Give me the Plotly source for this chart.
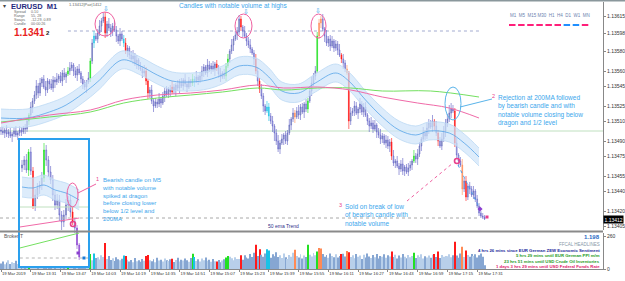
import plotly.graph_objects as go

FONT = "Liberation Sans"
BASE = 1.13400          # price offset for the point lists
PT = 0.00001            # one point

# ---------------- main M1 data (points above 1.13400) ----------------
first_open_pts = 101
close_pts = [
    100, 98, 101, 97, 99, 95, 97, 100, 96, 98, 101, 99, 103, 102,
    110, 116, 124, 130, 136,
    145, 138, 148, 152, 144, 141, 150, 147, 143, 151, 149,
    152, 155, 150, 158, 154, 157, 160,
    163, 166,
    160, 156, 162, 158,
    152, 147, 144, 149, 153,
    170, 188, 195,
    192, 198,
    205, 210, 214, 198, 207, 203, 199, 205, 201,
    195, 190, 197, 192, 188,
    180, 183,
    176, 172, 175, 168, 171,
    165, 162, 158, 160,
    150, 138, 141,
    130, 125, 129, 127, 132, 128,
    135, 140, 137, 142, 139, 144, 141,
    146, 143, 149, 145, 151, 147, 144, 150, 148, 152,
    150, 154, 151, 155,
    160, 164, 158, 166, 162, 165, 161, 167, 163,
    157, 154, 158, 155,
    165, 172, 180, 186,
    192, 196, 199,
    212, 204, 200,
    195, 190, 186, 182, 178,
    172, 160, 150, 142, 135,
    125, 120, 124, 115, 110,
    105, 98, 90, 82, 88,
    92, 96, 90, 98,
    106, 112, 118,
    114, 120, 116, 124, 119, 127, 122, 130,
    140, 148, 155, 160,
    195,
    208, 212, 202,
    195, 188, 192, 185, 190, 183, 187, 181,
    176, 172, 168,
    162, 158,
    110, 118,
    120, 125, 118, 122, 127, 119, 124, 116,
    110, 105, 108, 102, 106, 99,
    96, 92, 95, 88, 91, 85, 89,
    75, 68,
    70, 65, 62, 67, 60, 64, 59, 63, 66,
    70, 75, 72, 77,
    85, 92, 98, 95, 103, 108, 104,
    110, 105, 98, 90, 85, 92, 100, 108, 112,
    118, 122, 120,
    88, 76, 70, 66, 42, 50, 34, 45, 42, 36, 40,
    32, 25, 18, 15,
    14, 12,
]
wick_up = [
    3, 4, 2, 5, 3, 4, 2, 3, 5, 2, 4, 3, 2, 4, 3, 2, 5, 3, 4, 6,
    3, 5, 2, 4, 6, 3, 2, 5, 4, 3, 6, 2, 4, 3, 5, 2, 4, 6, 3, 2,
    4, 3, 5, 2, 3, 4, 2, 6, 3, 4, 5, 3, 4, 6, 3, 4, 5, 3, 6, 4,
    3, 5, 4, 2, 6, 3, 4, 5, 3, 2, 4, 6, 3, 5, 2, 4, 3, 6, 4, 2,
    3, 5, 2, 4, 3, 6, 2, 4, 3, 5, 2, 4, 6, 3, 2, 5, 3, 4, 2, 6,
    3, 4, 2, 5, 3, 6, 2, 4, 5, 3, 2, 6, 4, 3, 5, 2, 4, 3, 6, 2,
    4, 3, 5, 2, 6, 3, 4, 5, 4, 3, 2, 5, 3, 4, 6, 2, 3, 5, 4, 3,
    5, 3, 2, 6, 4, 3, 5, 2, 4, 6, 3, 5, 2, 4, 3, 6, 2, 5, 3, 4,
    6, 3, 4, 2, 5, 3, 4, 6, 3, 5, 4, 4, 3, 5, 2, 6, 3, 4, 5, 2,
    4, 3, 6, 2, 5, 3, 4, 2, 6, 3, 5, 4, 2, 6, 3, 4, 5, 2, 3, 6,
    3, 5, 2, 4, 6, 3, 2, 5, 4, 3, 4, 6, 2, 5, 3, 4, 6, 2, 3, 5,
    4, 2, 6, 3, 5, 4, 2, 6, 3, 5, 4, 3, 6, 2, 5, 3, 4, 6, 5, 4,
    5, 8, 6, 4, 3, 5, 2, 4, 6, 3, 5, 2, 4, 3, 5, 2, 4, 3, 2, 3, 2,
]
wick_dn = [
    4, 2, 5, 3, 4, 2, 6, 3, 2, 5, 3, 4, 2, 5, 3, 4, 2, 6, 3, 4,
    5, 3, 4, 2, 6, 3, 5, 2, 4, 6, 3, 4, 2, 5, 3, 6, 2, 4, 3, 5,
    3, 6, 2, 4, 5, 3, 6, 2, 4, 3, 5, 2, 4, 3, 6, 2, 5, 4, 3, 5,
    4, 2, 6, 3, 5, 2, 4, 3, 6, 4, 2, 5, 3, 6, 4, 2, 5, 3, 4, 6,
    5, 3, 6, 2, 4, 3, 5, 2, 6, 3, 4, 5, 2, 4, 6, 3, 5, 2, 4, 3,
    5, 2, 4, 3, 6, 2, 5, 3, 4, 6, 2, 4, 3, 5, 2, 6, 3, 4, 5, 2,
    3, 5, 2, 4, 3, 6, 2, 5, 3, 4, 6, 2, 5, 3, 4, 2, 6, 3, 5, 4,
    3, 6, 4, 2, 5, 3, 6, 8, 4, 3, 5, 2, 6, 3, 4, 2, 5, 3, 6, 2,
    4, 5, 2, 6, 3, 4, 2, 5, 3, 4, 2, 3, 5, 2, 6, 3, 4, 5, 2, 4,
    3, 5, 2, 4, 6, 3, 2, 8, 4, 3, 5, 2, 6, 4, 3, 5, 2, 4, 6, 3,
    4, 2, 6, 3, 5, 4, 2, 5, 3, 6, 4, 3, 5, 2, 6, 3, 4, 5, 2, 4,
    3, 5, 2, 4, 6, 3, 5, 2, 4, 3, 6, 2, 5, 4, 3, 5, 2, 4, 3, 6,
    4, 3, 5, 2, 4, 3, 5, 2, 6, 3, 4, 3, 5, 2, 4, 3, 2, 3, 2, 2, 1,
]
volume = [
    45, 60, 38, 52, 70, 41, 55, 48, 66, 40,
    58, 72, 50, 64, 85, 110, 78, 62, 90, 55,
    68, 47, 75, 60, 52, 80, 58, 66, 49, 72,
    61, 54, 83, 57, 70, 64, 115, 58, 76, 52,
    66, 48, 73, 60, 85, 55, 68, 92, 120, 70,
    125, 88, 95, 76, 110, 96, 210, 80, 105, 72,
    86, 64, 95, 78, 70, 82, 108, 105, 74, 60,
    72, 55, 88, 63, 70, 58, 80, 66, 105, 112,
    70, 62, 78, 55, 90, 68, 74, 60, 85, 70,
    64, 78, 82, 56, 72, 90, 60, 75, 68, 84,
    70, 58, 88, 122, 96, 65, 78, 60, 84, 70,
    92, 66, 75, 58, 80, 62, 60, 72, 55, 68,
    78, 92, 105, 98, 86, 70, 95, 80, 80, 110,
    75, 110, 92, 84, 120, 96, 130, 195, 105, 160,
    115, 98, 125, 160, 150, 90, 118, 102, 135, 96,
    110, 88, 124, 95, 80, 112, 98, 130, 155, 105,
    92, 118, 84, 108, 96, 195, 115, 100, 128, 110,
    140, 170, 165, 120, 98, 112, 90, 125, 104, 95,
    118, 92, 105, 120, 122, 100, 145, 135, 96, 110,
    86, 120, 98, 108, 80, 115, 92, 125, 100, 88,
    112, 95, 120, 84, 105, 98, 118, 90, 110, 100,
    140, 96, 115, 85, 108, 92, 120, 98, 86, 112,
    95, 105, 130, 88, 110, 96, 118, 84, 102, 92,
    108, 90, 115, 120, 96, 140, 88, 112, 98, 104,
    102, 118, 95, 110, 220, 108, 90, 125, 180, 96,
    150, 112, 98, 120, 105, 118, 92, 110, 125, 98, 30,
]
red_bars = [56, 67, 78, 79, 92, 116, 129, 137, 139, 183, 187, 210, 233, 235, 244, 250]
lime_bars = [15, 36, 48, 103, 121, 122, 165, 170, 222]
orange_bars = [158, 171, 172, 186, 248]
cyan_bars = [50, 66, 104, 143, 144]

# indicator lines (bar index, points)
dragon_x = [0, 14, 26, 35, 48, 53, 65, 75, 84, 92, 102, 111, 119, 128, 137, 144, 151, 160, 169,
            180, 187, 196, 205, 214, 223, 230, 241, 249, 257]
dragon_mid = [113, 113, 119, 126, 143, 151, 171, 165, 156, 150, 149, 151, 156, 165, 164, 154, 140,
              138, 148, 158, 150, 131, 114, 101, 96, 100, 98, 88, 74]
dragon_hi = [122, 122, 128, 135, 152, 160, 180, 174, 165, 159, 158, 160, 165, 174, 173, 163, 149,
             147, 157, 167, 159, 140, 123, 110, 105, 109, 107, 97, 83]
dragon_lo = [104, 104, 110, 117, 134, 142, 162, 156, 147, 141, 140, 142, 147, 156, 155, 145, 131,
             129, 139, 149, 141, 122, 105, 92, 87, 91, 89, 79, 65]
ma200_x = [0, 26, 48, 66, 84, 102, 119, 138, 152, 170, 188, 205, 224, 241, 257]
ma200 = [108, 116, 121, 131, 136, 138, 141, 146, 143, 144, 141, 134, 128, 123, 113]
ma_green_x = [0, 26, 48, 66, 84, 102, 119, 138, 152, 170, 188, 205, 231, 257]
ma_green = [109, 114, 119, 128, 133, 136, 139, 143, 141, 143, 143, 140, 140, 134]
level_half = 100       # 1/2 level
level_top = 200        # dotted level near highs
level_bid = 13         # dotted line near current price
current_price = 1.13412

time_labels = ["19 Mar 2019", "19 Mar 13:31", "19 Mar 13:47", "19 Mar 14:03", "19 Mar 14:19",
               "19 Mar 14:35", "19 Mar 14:51", "19 Mar 15:07", "19 Mar 15:23", "19 Mar 15:39",
               "19 Mar 15:55", "19 Mar 16:11", "19 Mar 16:27", "19 Mar 16:43", "19 Mar 16:59",
               "19 Mar 17:15", "19 Mar 17:31"]
time_label_bars = [0, 16, 32, 48, 64, 80, 96, 112, 128, 144, 160, 176, 192, 208, 224, 240, 256]
price_ticks = [1.13615, 1.13598, 1.13580, 1.13560, 1.13545, 1.13525, 1.13510, 1.13490,
               1.13475, 1.13455, 1.13440, 1.13420, 1.13405]

# ---------------- inset (M5) data ----------------
IN_BASE = 1.13300
in_first_open = 98
in_close = [101, 106, 96, 114, 95, 60, 71, 78, 81, 88, 116, 106, 94, 86, 71, 61, 66, 51, 44,
            51, 61, 66, 54, 44, 38, 21, 9]
in_wick_up = [5, 4, 6, 3, 5, 4, 6, 5, 4, 6, 7, 5, 4, 6, 5, 4, 6, 5, 4, 5, 6, 4, 5, 6, 4, 3, 2]
in_wick_dn = [4, 5, 3, 6, 4, 3, 5, 4, 6, 5, 4, 6, 5, 4, 6, 5, 4, 6, 8, 5, 4, 6, 5, 3, 5, 4, 3]
in_red = [5, 23]
in_lime = [3, 10]
in_purple = [25, 26]
in_dragon_x = [0, 5, 10, 15, 20, 26]
in_dragon_mid = [79, 78, 81, 76, 73, 66]
in_dragon_hi = [89, 88, 91, 86, 83, 76]
in_dragon_lo = [69, 68, 71, 66, 63, 56]
in_ma_x = [-1, 8, 17, 26]
in_ma200 = [39, 42, 45, 48]
in_ma_green = [18, 23, 28, 33]
in_levels = [59, 48, 8]

# ---------------- geometry helpers (pixel -> axis) ----------------
PLOT_W, PLOT_B, PLOT_H = 603, 269, 267
def px(x):
    return x / PLOT_W
def py(y):
    return (PLOT_B - y) / PLOT_H
def XI(x):
    return (x - 1) / 1.86
def YP(y):
    return BASE + (231 - y) * PT
def XJ(x):
    return (x - 22) / 2.2
def YJ(y):
    return IN_BASE + (266 - y) * PT

# ---------------- build ----------------
N = len(close_pts)
open_pts = [first_open_pts] + close_pts[:-1]
o = [BASE + v * PT for v in open_pts]
c = [BASE + v * PT for v in close_pts]
h = [BASE + (max(a, b) + u) * PT for a, b, u in zip(open_pts, close_pts, wick_up)]
lo_ = [BASE + (min(a, b) - d) * PT for a, b, d in zip(open_pts, close_pts, wick_dn)]
cat = ['n'] * N
for k, lst in (('r', red_bars), ('g', lime_bars), ('o', orange_bars), ('c', cyan_bars)):
    for i in lst:
        cat[i] = k

styles = {
    'n': ('#5d5dc4', '#a6cca6', '#c0c0ec'),
    'r': ('#ff1010', '#ff1010', '#ff1010'),
    'g': ('#1fe01f', '#1fe01f', '#1fe01f'),
    'o': ('#ff8a55', '#ff8a55', '#ff8a55'),
    'c': ('#18c2e6', '#18c2e6', '#18c2e6'),
    'p': ('#8a3fd0', '#8a3fd0', '#8a3fd0'),
}

fig = go.Figure()

# dragon band
fig.add_trace(go.Scatter(x=dragon_x, y=[BASE + v * PT for v in dragon_lo], mode='lines',
                         line=dict(color='#bcd9f4', width=0.8, shape='spline'), hoverinfo='skip'))
fig.add_trace(go.Scatter(x=dragon_x, y=[BASE + v * PT for v in dragon_hi], mode='lines',
                         line=dict(color='#bcd9f4', width=0.8, shape='spline'), fill='tonexty',
                         fillcolor='rgba(206,228,249,0.7)', hoverinfo='skip'))
fig.add_trace(go.Scatter(x=dragon_x, y=[BASE + v * PT for v in dragon_mid], mode='lines',
                         line=dict(color='#58a4e8', width=0.8, shape='spline'), hoverinfo='skip'))
fig.add_trace(go.Scatter(x=ma_green_x, y=[BASE + v * PT for v in ma_green], mode='lines',
                         line=dict(color='#74e060', width=1, shape='spline'), hoverinfo='skip'))
fig.add_trace(go.Scatter(x=ma200_x, y=[BASE + v * PT for v in ma200], mode='lines',
                         line=dict(color='#f06aa8', width=1, shape='spline'), hoverinfo='skip'))

for key in ('n', 'r', 'g', 'o', 'c'):
    idx = [i for i in range(N) if cat[i] == key]
    lc, fu, fd = styles[key]
    fig.add_trace(go.Candlestick(
        x=idx, open=[o[i] for i in idx], high=[h[i] for i in idx],
        low=[lo_[i] for i in idx], close=[c[i] for i in idx],
        increasing=dict(line=dict(color=lc, width=0.6), fillcolor=fu),
        decreasing=dict(line=dict(color=lc, width=0.6), fillcolor=fd),
        whiskerwidth=0, hoverinfo='skip', xaxis='x', yaxis='y'))

# volume
vcol_map = {'r': '#ff1a1a', 'g': '#22e022', 'o': '#ff8a55', 'c': '#18c2e6'}
vcols = []
for i in range(N):
    if cat[i] in vcol_map:
        vcols.append(vcol_map[cat[i]])
    else:
        vcols.append('#b8cfea' if close_pts[i] >= open_pts[i] else '#86a6d2')
fig.add_trace(go.Bar(x=list(range(N)), y=volume, marker=dict(color=vcols, line=dict(width=0)),
                     width=0.5, xaxis='x', yaxis='y2', hoverinfo='skip'))

# markers near the end
fig.add_trace(go.Scatter(x=[XI(457)], y=[YP(161)], mode='markers',
                         marker=dict(symbol='circle-open', size=5, color='#e8408c', line=dict(width=1.6)),
                         hoverinfo='skip'))
fig.add_trace(go.Scatter(x=[XI(480)], y=[YP(209)], mode='markers',
                         marker=dict(symbol='diamond', size=4, color='#8a3fd0'), hoverinfo='skip'))
fig.add_trace(go.Scatter(x=[XI(487)], y=[YP(217)], mode='markers',
                         marker=dict(symbol='square', size=3, color='#e8408c'), hoverinfo='skip'))

# ---------------- inset traces ----------------
NI = len(in_close)
in_open = [in_first_open] + in_close[:-1]
icat = ['n'] * NI
for k, lst in (('r', in_red), ('g', in_lime), ('p', in_purple)):
    for i in lst:
        icat[i] = k
fig.add_trace(go.Scatter(x=[-1, 31], y=[IN_BASE + in_levels[0] * PT] * 2, mode='lines',
                         line=dict(color='#bfe0bf', width=1), xaxis='x3', yaxis='y3', hoverinfo='skip'))
for lv in in_levels[1:]:
    fig.add_trace(go.Scatter(x=[-1, 31], y=[IN_BASE + lv * PT] * 2, mode='lines',
                             line=dict(color='#b4b4b4', width=1, dash='dot'), xaxis='x3', yaxis='y3',
                             hoverinfo='skip'))
fig.add_trace(go.Scatter(x=in_dragon_x, y=[IN_BASE + v * PT for v in in_dragon_lo], mode='lines',
                         line=dict(color='#bcd9f4', width=0.8, shape='spline'), xaxis='x3', yaxis='y3',
                         hoverinfo='skip'))
fig.add_trace(go.Scatter(x=in_dragon_x, y=[IN_BASE + v * PT for v in in_dragon_hi], mode='lines',
                         line=dict(color='#bcd9f4', width=0.8, shape='spline'), fill='tonexty',
                         fillcolor='rgba(206,228,249,0.7)', xaxis='x3', yaxis='y3', hoverinfo='skip'))
fig.add_trace(go.Scatter(x=in_dragon_x, y=[IN_BASE + v * PT for v in in_dragon_mid], mode='lines',
                         line=dict(color='#58a4e8', width=0.8, shape='spline'), xaxis='x3', yaxis='y3',
                         hoverinfo='skip'))
fig.add_trace(go.Scatter(x=in_ma_x, y=[IN_BASE + v * PT for v in in_ma_green], mode='lines',
                         line=dict(color='#74e060', width=1), xaxis='x3', yaxis='y3', hoverinfo='skip'))
fig.add_trace(go.Scatter(x=in_ma_x, y=[IN_BASE + v * PT for v in in_ma200], mode='lines',
                         line=dict(color='#f06aa8', width=1), xaxis='x3', yaxis='y3', hoverinfo='skip'))
for key in ('n', 'r', 'g', 'p'):
    idx = [i for i in range(NI) if icat[i] == key]
    lc, fu, fd = styles[key]
    fig.add_trace(go.Candlestick(
        x=idx, open=[IN_BASE + in_open[i] * PT for i in idx],
        high=[IN_BASE + (max(in_open[i], in_close[i]) + in_wick_up[i]) * PT for i in idx],
        low=[IN_BASE + (min(in_open[i], in_close[i]) - in_wick_dn[i]) * PT for i in idx],
        close=[IN_BASE + in_close[i] * PT for i in idx],
        increasing=dict(line=dict(color=lc, width=0.6), fillcolor=fu),
        decreasing=dict(line=dict(color=lc, width=0.6), fillcolor=fd),
        whiskerwidth=0, hoverinfo='skip', xaxis='x3', yaxis='y3'))
fig.add_trace(go.Scatter(x=[XJ(73)], y=[YJ(224)], mode='markers',
                         marker=dict(symbol='circle-open', size=5, color='#e8408c', line=dict(width=1.6)),
                         xaxis='x3', yaxis='y3', hoverinfo='skip'))
fig.add_trace(go.Scatter(x=[XJ(78), XJ(84)], y=[YJ(253), YJ(258)], mode='markers',
                         marker=dict(symbol='square', size=3, color=['#8a3fd0', '#1a7ad8']),
                         xaxis='x3', yaxis='y3', hoverinfo='skip'))

# ---------------- shapes ----------------
shapes = [
    dict(type='line', xref='paper', yref='y', x0=0, x1=1, y0=BASE + level_half * PT, y1=BASE + level_half * PT,
         line=dict(color='#bfe0bf', width=1), layer='below'),
    dict(type='line', xref='x', yref='y', x0=36, x1=257, y0=BASE + level_top * PT, y1=BASE + level_top * PT,
         line=dict(color='#a3abd0', width=1, dash='dot'), layer='below'),
    dict(type='line', xref='x', yref='y', x0=XI(0), x1=257, y0=BASE + level_bid * PT, y1=BASE + level_bid * PT,
         line=dict(color='#a8a8a8', width=1, dash='dot'), layer='below'),
    # ellipses
    dict(type='circle', xref='x', yref='y', x0=XI(95), x1=XI(115), y0=YP(36), y1=YP(12),
         line=dict(color='#ef5fa0', width=1)),
    dict(type='circle', xref='x', yref='y', x0=XI(235), x1=XI(252), y0=YP(38), y1=YP(14),
         line=dict(color='#ef5fa0', width=1)),
    dict(type='circle', xref='x', yref='y', x0=XI(311), x1=XI(326), y0=YP(38), y1=YP(14),
         line=dict(color='#ef5fa0', width=1)),
    dict(type='circle', xref='x', yref='y', x0=XI(445), x1=XI(461), y0=YP(120), y1=YP(87),
         line=dict(color='#5ab4ea', width=1)),
    dict(type='circle', xref='x3', yref='y3', x0=XJ(67), x1=XJ(78), y0=YJ(207), y1=YJ(183),
         line=dict(color='#ef5fa0', width=1)),
    # connectors
    dict(type='line', xref='paper', yref='paper', x0=px(78), x1=px(96), y0=py(193), y1=py(184),
         line=dict(color='#ef5fa0', width=1)),
    dict(type='line', xref='paper', yref='paper', x0=px(460), x1=px(492), y0=py(107), y1=py(99),
         line=dict(color='#5ab4ea', width=1)),
    dict(type='line', xref='paper', yref='paper', x0=px(407), x1=px(453), y0=py(201), y1=py(163),
         line=dict(color='#ef5fa0', width=1, dash='dot')),
    dict(type='line', xref='paper', yref='paper', x0=px(458), x1=px(479), y0=py(165), y1=py(207),
         line=dict(color='#4a9be6', width=1, dash='dot')),
    # frame
    dict(type='line', xref='paper', yref='paper', x0=0, x1=625 / 603, y0=py(0.5), y1=py(0.5),
         line=dict(color='#8a979c', width=2)),
    dict(type='line', xref='paper', yref='paper', x0=0, x1=1, y0=py(231.5), y1=py(231.5),
         line=dict(color='#8a8a8a', width=2)),
]
tf_colors = ['#ff1f7a'] * 6 + ['#1f8fff'] * 2 + ['#ff1f7a']
for k, col in enumerate(tf_colors):
    x0 = 509 + k * 9.1
    shapes.append(dict(type='line', xref='paper', yref='paper', x0=px(x0), x1=px(x0 + 6.5),
                       y0=py(25), y1=py(25), line=dict(color=col, width=2)))

# ---------------- annotations ----------------
def ann(x, y, text, size, color, xanchor='left', yanchor='middle', bold=False, align='left', bg=None):
    d = dict(x=px(x), y=py(y), xref='paper', yref='paper', text=('<b>%s</b>' % text) if bold else text,
             showarrow=False, xanchor=xanchor, yanchor=yanchor, align=align, borderpad=0,
             font=dict(family=FONT, size=size, color=color))
    if bg:
        d['bgcolor'] = bg
    return d

BLUE_TXT = '#3aa6ec'
PINK = '#e8408c'
INFO = '#6a6a6a'
annotations = [
    ann(2, 6, '▾', 6, '#444'),
    ann(10, 6, 'EURUSD  M1', 7.5, '#1f2a80', bold=True),
    ann(13, 12, 'Spread', 3.7, INFO), ann(30, 12, '0.10', 3.7, INFO),
    ann(13, 16.1, 'Range', 3.7, INFO), ann(30, 16.1, '55, 28', 3.7, INFO),
    ann(13, 20.2, 'Swaps', 3.7, INFO), ann(30, 20.2, '-12.29, 0.89', 3.7, INFO),
    ann(13, 24.3, 'Candle', 3.7, INFO), ann(30, 24.3, '00:00:26', 3.7, INFO),
    ann(13, 32, '1.1341', 10, '#e81e1e', bold=True),
    ann(45, 33, '2', 6, '#222', bold=True),
    ann(68, 4, '1.13412|Pair|1412', 4, '#666'),
    ann(178, 6, 'Candles with notable volume at highs', 6.5, BLUE_TXT),
    ann(106, 8.5, '⇩', 7, '#3aa6ec', xanchor='center'),
    ann(246, 12, '⇩', 7, '#3aa6ec', xanchor='center'),
    ann(318, 11, '⇩', 7, '#3aa6ec', xanchor='center'),
    ann(550, 15, 'M1  M5  M15 M30  H1  H4  D1  W1  MN', 4.5, '#6d7fb0', xanchor='center'),
    ann(493, 96, '2', 5.5, PINK, xanchor='center'),
    ann(497, 93, 'Rejection at 200MA followed<br>by bearish candle and with<br>notable volume closing below<br>dragon and 1/2 level',
        6.5, BLUE_TXT, yanchor='top'),
    ann(97, 179, '1', 5.5, PINK, xanchor='center'),
    ann(101, 176.5, 'Bearish candle on M5<br>with notable volume<br>spiked at dragon<br>before closing lower<br>below 1/2 level and<br>200MA',
        6, BLUE_TXT, yanchor='top'),
    ann(340, 205, '3', 5.5, PINK, xanchor='center'),
    ann(344, 202, 'Sold on break of low<br>of bearish candle with<br>notable volume', 6.5, BLUE_TXT, yanchor='top'),
    ann(283, 226, '50 ema Trend', 5, '#30308a', xanchor='center'),
    ann(3, 236, 'Broker T', 5, '#555'),
    ann(601, 237, '1.198', 6, '#2b6cc4', xanchor='right', bold=True),
    ann(601, 244, 'FFCAL HEADLINES', 4.5, '#8898a8', xanchor='right'),
    ann(601, 250, '4 hrs 26 mins since EUR German ZEW Economic Sentiment', 4.3, '#1a2a9a', xanchor='right', bold=True),
    ann(601, 255.5, '5 hrs 29 mins until EUR German PPI m/m', 4.3, '#1f9a1f', xanchor='right', bold=True),
    ann(601, 261, '23 hrs 51 mins until USD Crude Oil Inventories', 4.3, '#1f9a1f', xanchor='right', bold=True),
    ann(601, 266.5, '1 days 3 hrs 29 mins until USD Federal Funds Rate', 4.3, '#e0206a', xanchor='right', bold=True),
    dict(x=1.0, y=current_price, xref='paper', yref='y', text='1.13412', showarrow=False, xanchor='left',
         yanchor='middle', bgcolor='#000000', borderpad=0.5, font=dict(family=FONT, size=5, color='#ffffff')),
]

fig.update_layout(
    width=625, height=281,
    margin=dict(l=0, r=22, t=2, b=12),
    paper_bgcolor='white', plot_bgcolor='white',
    showlegend=False, boxgap=0.4,
    font=dict(family=FONT, size=5, color='#222'),
    shapes=shapes, annotations=annotations,
    xaxis=dict(domain=[0, 1], range=[XI(0), XI(603)], anchor='y2', tickvals=time_label_bars,
               ticktext=time_labels, ticklabelposition='outside right', tickangle=0,
               tickfont=dict(size=4.2, color='#333'),
               ticks='outside', ticklen=2, tickcolor='#888', showline=True, linecolor='#888', linewidth=1,
               showgrid=False, zeroline=False, rangeslider=dict(visible=False), automargin=False),
    yaxis=dict(domain=[py(230), 1], range=[YP(230), YP(2)], side='right', anchor='x', tickvals=price_ticks,
               tickformat='.5f', tickfont=dict(size=5, color='#333'), ticks='outside', ticklen=2,
               tickcolor='#888', showline=True, linecolor='#888', showgrid=False, zeroline=False,
               automargin=False),
    yaxis2=dict(domain=[0, py(233)], range=[0, 290], side='right', anchor='x', tickvals=[0, 260],
                tickfont=dict(size=5, color='#333'), ticks='outside', ticklen=2, tickcolor='#888',
                showline=True, linecolor='#888', showgrid=False, zeroline=False, automargin=False),
    xaxis3=dict(domain=[px(20), px(88)], range=[XJ(20), XJ(88)], anchor='y3', showline=True, mirror=True,
                linecolor='#2aa0ee', linewidth=2, showticklabels=False, ticks='', showgrid=False,
                zeroline=False, rangeslider=dict(visible=False)),
    yaxis3=dict(domain=[py(266), py(140)], range=[YJ(266), YJ(140)], anchor='x3', showline=True, mirror=True,
                linecolor='#2aa0ee', linewidth=2, showticklabels=False, ticks='', showgrid=False,
                zeroline=False),
)

fig.write_html("out.html")
